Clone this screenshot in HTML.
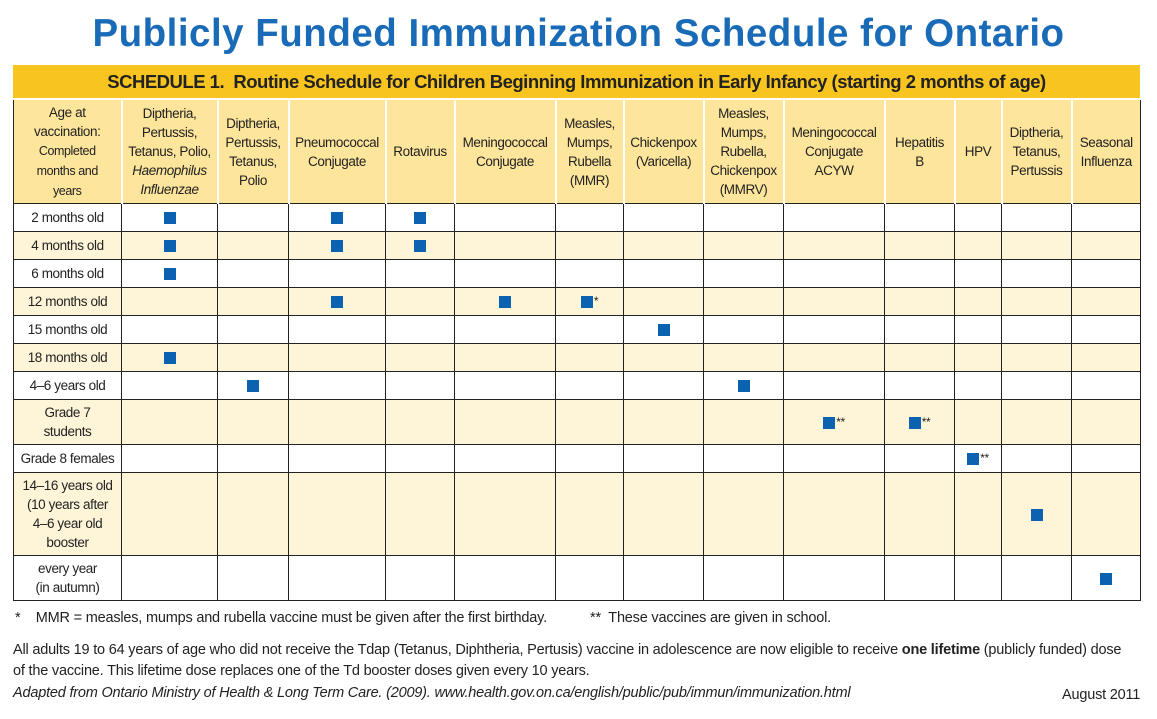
<!DOCTYPE html>
<html><head><meta charset="utf-8"><style>
body{margin:0;width:1157px;height:719px;background:#fff;font-family:"Liberation Sans Narrow","Liberation Sans",sans-serif;color:#222;position:relative;overflow:hidden}
h1{position:absolute;left:0;width:1157px;top:12px;margin:0;text-align:center;font-family:"Liberation Sans",sans-serif;font-weight:bold;font-size:38.5px;color:#1a6bb7;letter-spacing:0.5px}
.bar{position:absolute;left:13px;top:65px;width:1127px;height:33px;background:#f8c520;font-family:"Liberation Sans",sans-serif;font-weight:bold;font-size:18.5px;line-height:33px;text-align:center;color:#222;letter-spacing:-0.5px}
table{position:absolute;left:13px;top:98px;border-collapse:collapse;table-layout:fixed;width:1128px}
td{padding:0;text-align:center;font-size:13.5px;letter-spacing:-0.4px;line-height:19px;border:1.5px solid #222}
tr.h td{background:#fde59c;border:2px solid #fff;border-bottom:1.5px solid #222;height:103px;vertical-align:middle}
tr.h td:first-child{border-left:1.5px solid #222}
tr.h td:last-child{border-right:1.5px solid #222}
tr.y td{background:#fef4d8}
.sq{display:inline-block;width:12px;height:12px;background:#0b62b0;vertical-align:middle;position:relative}
.st{font-size:12px;vertical-align:top;margin-left:1px}
.sm{font-size:12.5px}
.f{position:absolute;font-family:"Liberation Sans",sans-serif;font-size:14.5px;letter-spacing:-0.2px;color:#222;white-space:nowrap}
</style></head><body>
<h1>Publicly Funded Immunization Schedule for Ontario</h1>
<div class="bar">SCHEDULE 1.&nbsp; Routine Schedule for Children Beginning Immunization in Early Infancy (starting 2 months of age)</div>
<table>
<colgroup><col style="width:108px"><col style="width:96px"><col style="width:71px"><col style="width:97px"><col style="width:69px"><col style="width:101px"><col style="width:68px"><col style="width:80px"><col style="width:80px"><col style="width:101px"><col style="width:70px"><col style="width:47px"><col style="width:70px"><col style="width:69px"></colgroup>
<tr class="h"><td>Age at<br>vaccination:<br><span class="sm">Completed<br>months and<br>years</span></td><td>Diptheria,<br>Pertussis,<br>Tetanus, Polio,<br><i>Haemophilus<br>Influenzae</i></td><td>Diptheria,<br>Pertussis,<br>Tetanus,<br>Polio</td><td>Pneumococcal<br>Conjugate</td><td>Rotavirus</td><td>Meningococcal<br>Conjugate</td><td>Measles,<br>Mumps,<br>Rubella<br>(MMR)</td><td>Chickenpox<br>(Varicella)</td><td>Measles,<br>Mumps,<br>Rubella,<br>Chickenpox<br>(MMRV)</td><td>Meningococcal<br>Conjugate<br>ACYW</td><td>Hepatitis<br>B</td><td>HPV</td><td>Diptheria,<br>Tetanus,<br>Pertussis</td><td>Seasonal<br>Influenza</td></tr>
<tr style="height:28px"><td>2 months old</td><td><span class="sq"></span></td><td></td><td><span class="sq"></span></td><td><span class="sq"></span></td><td></td><td></td><td></td><td></td><td></td><td></td><td></td><td></td><td></td></tr>
<tr class="y" style="height:28px"><td>4 months old</td><td><span class="sq"></span></td><td></td><td><span class="sq"></span></td><td><span class="sq"></span></td><td></td><td></td><td></td><td></td><td></td><td></td><td></td><td></td><td></td></tr>
<tr style="height:28px"><td>6 months old</td><td><span class="sq"></span></td><td></td><td></td><td></td><td></td><td></td><td></td><td></td><td></td><td></td><td></td><td></td><td></td></tr>
<tr class="y" style="height:28px"><td>12 months old</td><td></td><td></td><td><span class="sq"></span></td><td></td><td><span class="sq"></span></td><td><span class="sq"></span><span class="st">*</span></td><td></td><td></td><td></td><td></td><td></td><td></td><td></td></tr>
<tr style="height:28px"><td>15 months old</td><td></td><td></td><td></td><td></td><td></td><td></td><td><span class="sq"></span></td><td></td><td></td><td></td><td></td><td></td><td></td></tr>
<tr class="y" style="height:28px"><td>18 months old</td><td><span class="sq"></span></td><td></td><td></td><td></td><td></td><td></td><td></td><td></td><td></td><td></td><td></td><td></td><td></td></tr>
<tr style="height:28px"><td>4–6 years old</td><td></td><td><span class="sq"></span></td><td></td><td></td><td></td><td></td><td></td><td><span class="sq"></span></td><td></td><td></td><td></td><td></td><td></td></tr>
<tr class="y" style="height:45px"><td>Grade 7<br>students</td><td></td><td></td><td></td><td></td><td></td><td></td><td></td><td></td><td><span class="sq"></span><span class="st">**</span></td><td><span class="sq"></span><span class="st">**</span></td><td></td><td></td><td></td></tr>
<tr style="height:28px"><td>Grade 8 females</td><td></td><td></td><td></td><td></td><td></td><td></td><td></td><td></td><td></td><td></td><td><span class="sq"></span><span class="st">**</span></td><td></td><td></td></tr>
<tr class="y" style="height:83px"><td>14–16 years old<br>(10 years after<br>4–6 year old<br>booster</td><td></td><td></td><td></td><td></td><td></td><td></td><td></td><td></td><td></td><td></td><td></td><td><span class="sq"></span></td><td></td></tr>
<tr style="height:45px"><td>every year<br>(in autumn)</td><td></td><td></td><td></td><td></td><td></td><td></td><td></td><td></td><td></td><td></td><td></td><td></td><td><span class="sq"></span></td></tr>
</table>
<div class="f" style="left:15px;top:610px">*&nbsp;&nbsp;&nbsp; MMR = measles, mumps and rubella vaccine must be given after the first birthday.</div>
<div class="f" style="left:590px;top:610px">**&nbsp; These vaccines are given in school.</div>
<div class="f" style="left:13px;top:640px;line-height:21px">All adults 19 to 64 years of age who did not receive the Tdap (Tetanus, Diphtheria, Pertusis) vaccine in adolescence are now eligible to receive <b>one lifetime</b> (publicly funded) dose<br>of the vaccine. This lifetime dose replaces one of the Td booster doses given every 10 years.</div>
<div class="f" style="left:13px;top:685px;font-style:italic">Adapted from Ontario Ministry of Health &amp; Long Term Care. (2009). www.health.gov.on.ca/english/public/pub/immun/immunization.html</div>
<div class="f" style="left:1062px;top:687px">August 2011</div>
</body></html>
